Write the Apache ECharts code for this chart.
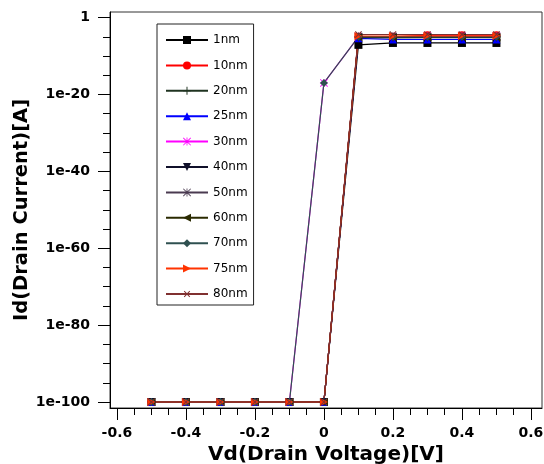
<!DOCTYPE html>
<html>
<head>
<meta charset="utf-8">
<script src="https://cdn.jsdelivr.net/npm/echarts@6/dist/echarts.min.js"></script>
<style>
  html, body { margin: 0; padding: 0; background: #fff; }
  #main { width: 544px; height: 464px; }
</style>
</head>
<body>
<div id="main"></div>
<script>
// drain voltage points
const vd = [-0.5, -0.4, -0.3, -0.2, -0.1, 0, 0.1, 0.2, 0.3, 0.4, 0.5];

// drain current per gate length (A)
const id1nm  = [1e-100, 1e-100, 1e-100, 1e-100, 1e-100, 1e-100, 8e-8, 2.5e-7, 2.5e-7, 2.5e-7, 2.5e-7];
const id10nm = [1e-100, 1e-100, 1e-100, 1e-100, 1e-100, 1e-100, 1e-5, 1e-5, 2.5e-5, 2.5e-5, 2.5e-5];
const id20nm = [1e-100, 1e-100, 1e-100, 1e-100, 1e-100, 1e-100, 7e-6, 6e-6, 7e-6, 7e-6, 7e-6];
const id25nm = [1e-100, 1e-100, 1e-100, 1e-100, 1e-100, 1e-100, 4e-6, 2e-6, 2e-6, 2e-6, 2e-6];
const id30nm = [1e-100, 1e-100, 1e-100, 1e-100, 1e-100, 1e-17, 1e-5, 1e-5, 1.3e-5, 1.3e-5, 1.3e-5];
const id40nm = [1e-100, 1e-100, 1e-100, 1e-100, 1e-100, 1e-100, 6e-6, 6e-6, 6e-6, 6e-6, 6e-6];
const id50nm = [1e-100, 1e-100, 1e-100, 1e-100, 1e-100, 1e-100, 1.2e-5, 1.2e-5, 1.2e-5, 1.2e-5, 1.2e-5];
const id60nm = [1e-100, 1e-100, 1e-100, 1e-100, 1e-100, 1e-100, 8e-6, 8e-6, 8e-6, 8e-6, 8e-6];
const id70nm = [1e-100, 1e-100, 1e-100, 1e-100, 1e-100, 1e-17, 1e-5, 1e-5, 1e-5, 1e-5, 1e-5];
const id75nm = [1e-100, 1e-100, 1e-100, 1e-100, 1e-100, 1e-100, 1.6e-5, 1.6e-5, 1.8e-5, 1.8e-5, 1.8e-5];
const id80nm = [1e-100, 1e-100, 1e-100, 1e-100, 1e-100, 1e-100, 4e-5, 4e-5, 4e-5, 4e-5, 4e-5];

// tick labels
const xLabelTicks = [-0.6, -0.4, -0.2, 0, 0.2, 0.4, 0.6];
const yLabelExps = [0, -20, -40, -60, -80, -100];

const plus = 'path://M4.4,0H5.6V4.4H10V5.6H5.6V10H4.4V5.6H0V4.4H4.4Z';
const star = 'path://M4.5,0H5.5V10H4.5Z M0,4.5H10V5.5H0Z M0.7,0L10,9.3L9.3,10L0,0.7Z M9.3,0L10,0.7L0.7,10L0,9.3Z';

const curves = [
  {name: '1nm',  data: id1nm,  color: '#000000', symbol: 'rect', size: 8},
  {name: '10nm', data: id10nm, color: '#ff0000', symbol: 'circle', size: 8},
  {name: '20nm', data: id20nm, color: '#1f3320', symbol: plus, size: 8},
  {name: '25nm', data: id25nm, color: '#0000ff', symbol: 'triangle', size: 8},
  {name: '30nm', data: id30nm, color: '#ff00ff', symbol: star, size: 8},
  {name: '40nm', data: id40nm, color: '#10102a', symbol: 'triangle', size: 8, rotate: 180},
  {name: '50nm', data: id50nm, color: '#4a3a50', symbol: star, size: 8},
  {name: '60nm', data: id60nm, color: '#2a2a00', symbol: 'triangle', size: 8, rotate: 90},
  {name: '70nm', data: id70nm, color: '#2f5050', symbol: 'diamond', size: 8},
  {name: '75nm', data: id75nm, color: '#ff3300', symbol: 'triangle', size: 8, rotate: -90},
  {name: '80nm', data: id80nm, color: '#803030', symbol: plus, size: 9, rotate: 45}
];

const xMinorTicks = [];
for (let i = -12; i <= 12; i++) xMinorTicks.push(+(i * 0.05).toFixed(2));
const yMinorTicks = [];
for (let e = 0; e >= -100; e -= 5) yMinorTicks.push(e);

const font = 'DejaVu Sans';
const xMin = -0.62, xMax = 0.632;
const yMin = -101.55, yMax = 1.45;
const gridBox = {left: 110, right: 2, top: 12, bottom: 56, outerBoundsMode: 'none', containLabel: false};

const chart = echarts.init(document.getElementById('main'));
chart.setOption({
  animation: false,
  backgroundColor: '#ffffff',
  grid: [
    Object.assign({show: true, borderColor: '#333', borderWidth: 1}, gridBox),
    Object.assign({show: false}, gridBox)
  ],
  legend: {
    orient: 'vertical',
    left: 157, top: 24,
    itemWidth: 42, itemHeight: 10, itemGap: 13.4,
    padding: [10, 6, 5, 8],
    borderColor: '#222', borderWidth: 1, backgroundColor: '#fff',
    textStyle: {fontFamily: font, fontSize: 12, color: '#000'},
    data: curves.map(c => c.name)
  },
  xAxis: [{
    type: 'value', gridIndex: 0, min: xMin, max: xMax, position: 'bottom',
    name: 'Vd(Drain Voltage)[V]', nameLocation: 'middle', nameGap: 34,
    nameTextStyle: {fontFamily: font, fontSize: 20, fontWeight: 'bold', color: '#000'},
    axisLine: {onZero: false, lineStyle: {color: '#000', width: 1}},
    axisTick: {show: true, length: 12, customValues: xLabelTicks, lineStyle: {color: '#000'}},
    axisLabel: {customValues: xLabelTicks, margin: 18, fontFamily: font, fontSize: 14, fontWeight: 'bold', color: '#000',
      formatter: v => (v === 0 ? '0' : v.toFixed(1))},
    splitLine: {show: false}
  }, {
    type: 'value', gridIndex: 1, min: xMin, max: xMax, position: 'bottom',
    axisLine: {show: false, onZero: false},
    axisTick: {show: true, length: 7, customValues: xMinorTicks, lineStyle: {color: '#000'}},
    axisLabel: {show: false},
    splitLine: {show: false}
  }],
  yAxis: [{
    type: 'value', gridIndex: 0, min: yMin, max: yMax, position: 'left',
    name: 'Id(Drain Current)[A]', nameLocation: 'middle', nameGap: 78, nameMoveOverlap: false,
    nameTextStyle: {fontFamily: font, fontSize: 19.5, fontWeight: 'bold', color: '#000'},
    axisLine: {show: true, onZero: false, lineStyle: {color: '#000', width: 1}},
    axisTick: {show: true, length: 12, customValues: yLabelExps, lineStyle: {color: '#000'}},
    axisLabel: {customValues: yLabelExps, margin: 20, fontFamily: font, fontSize: 14, fontWeight: 'bold', color: '#000',
      formatter: v => (v === 0 ? '1' : '1e' + v)},
    splitLine: {show: false}
  }, {
    type: 'value', gridIndex: 1, min: yMin, max: yMax, position: 'left',
    axisLine: {show: false, onZero: false},
    axisTick: {show: true, length: 7, customValues: yMinorTicks, lineStyle: {color: '#000'}},
    axisLabel: {show: false},
    splitLine: {show: false}
  }],
  series: curves.map(c => ({
    name: c.name,
    type: 'line',
    xAxisIndex: 0, yAxisIndex: 0,
    data: vd.map((v, i) => [v, Math.log10(c.data[i])]),
    symbol: c.symbol,
    symbolSize: c.size,
    symbolRotate: c.rotate || 0,
    showAllSymbol: true,
    color: c.color,
    lineStyle: {color: c.color, width: 1.2},
    itemStyle: {color: c.color}
  }))
});
</script>
</body>
</html>
